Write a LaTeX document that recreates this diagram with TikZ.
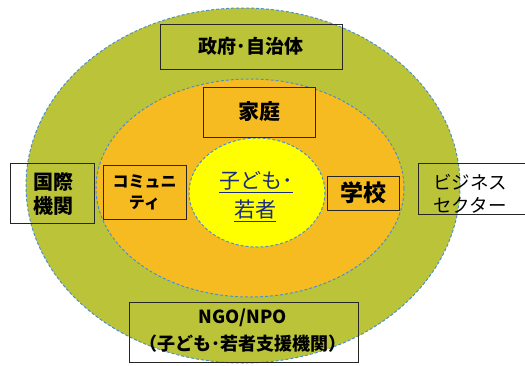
\documentclass[tikz,border=0pt]{standalone}
\usepackage{fontspec}
\newfontfamily\jp{Noto Sans CJK JP}
\definecolor{outerg}{RGB}{187,196,56}
\definecolor{midor}{RGB}{246,187,33}
\definecolor{inny}{RGB}{255,255,0}
\definecolor{rimb}{RGB}{75,145,205}
\definecolor{kidb}{RGB}{25,45,130}
\begin{document}
\begin{tikzpicture}[x=1pt,y=-1pt,
  ring/.style={draw=rimb,dashed,dash pattern=on 3pt off 2pt,line width=1pt},
  lbox/.style={draw=black!85,line width=0.9pt,inner sep=0pt,font=\jp\bfseries,align=center},
  every node/.style={font=\jp}]
\useasboundingbox (0,0) rectangle (525,365);
\fill[white] (0,0) rectangle (525,365);
\draw[ring,fill=outerg] (243,185.5) ellipse [x radius=217,y radius=177.5];
\draw[ring,fill=midor] (250,188) ellipse [x radius=154,y radius=109];
\draw[ring,fill=inny] (257,192.5) ellipse [x radius=68,y radius=54.5];
% boxes
\node[lbox,minimum width=182pt,minimum height=45pt,font=\jp\bfseries\fontsize{19}{22}\selectfont] (gov) at (251,46.5) {政府･自治体};
\node[lbox,fill=midor,minimum width=112pt,minimum height=50pt,font=\jp\bfseries\fontsize{21}{24}\selectfont] (home) at (259,112) {家庭};
\node[lbox,minimum width=84pt,minimum height=60pt] (intl) at (52,193) {};
\node[font=\jp\bfseries\fontsize{20}{24}\selectfont,align=left,anchor=west] (intlt) at (30,193.5) {国際\\機関};
\node[lbox,fill=midor,minimum width=83pt,minimum height=54pt,font=\jp\bfseries\fontsize{16}{21}\selectfont] (comm) at (144.5,192) {コミュニ\\ティ};
\node[lbox,fill=midor,minimum width=72pt,minimum height=34pt,font=\jp\bfseries\fontsize{23}{26}\selectfont] (school) at (363,193) {学校};
\node[lbox,minimum width=110pt,minimum height=51pt] (biz) at (473,188.5) {};
\node[font=\jp\fontsize{18.5}{23}\selectfont,align=center] (bizt) at (470,193.5) {ビジネス\\セクター};
\node[lbox,minimum width=229pt,minimum height=60pt] (ngo) at (243.5,332) {};
\node[font=\jp\bfseries\fontsize{18}{20}\selectfont] (ngo1) at (243,318) {NGO/NPO};
\node[font=\jp\bfseries\fontsize{18}{20}\selectfont] (ngo2) at (243,344) {（子ども･若者支援機関）};
% center
\node[text=kidb,font=\jp\fontsize{21}{22}\selectfont] (kid1) at (256,182) {\underline{子ども･}};
\node[text=kidb,font=\jp\fontsize{21}{22}\selectfont] (kid2) at (255,211) {\underline{若者}};
\end{tikzpicture}
\end{document}
